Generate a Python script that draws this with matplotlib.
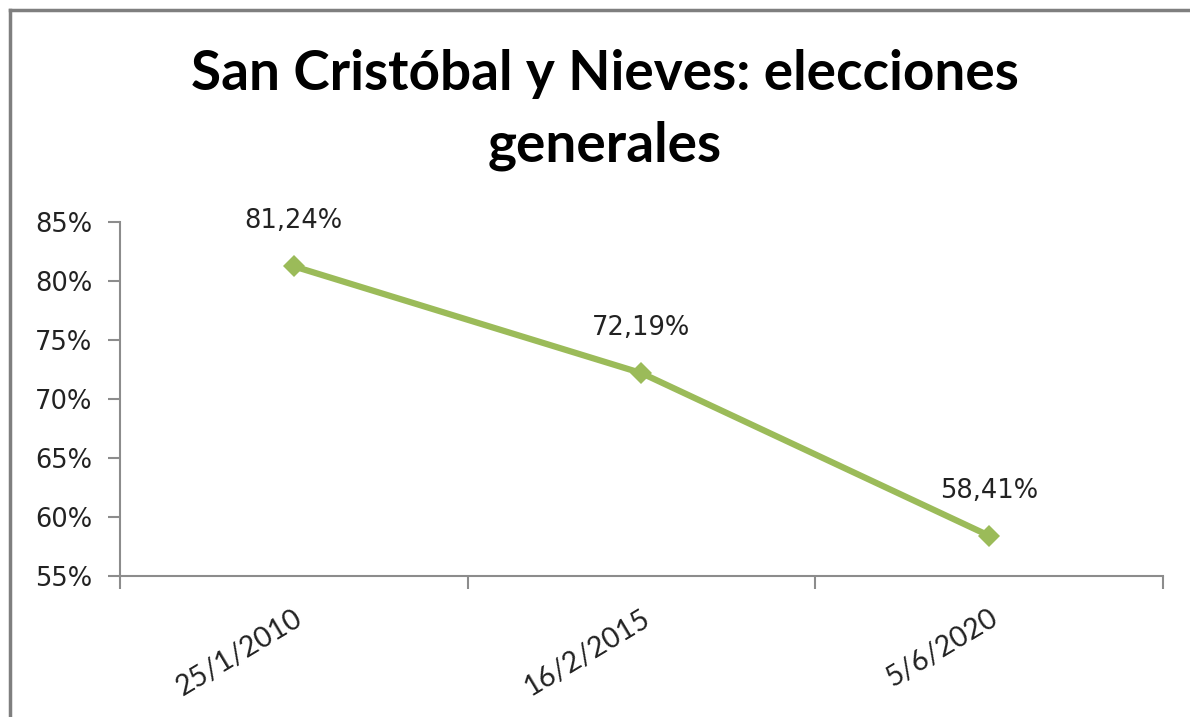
import matplotlib
matplotlib.use("Agg")
import matplotlib.pyplot as plt
from matplotlib.lines import Line2D

# Data
dates = ["25/1/2010", "16/2/2015", "5/6/2020"]
turnout = [81.24, 72.19, 58.41]
labels = ["81,24%", "72,19%", "58,41%"]
yticks = [55, 60, 65, 70, 75, 80, 85]

fig = plt.figure(figsize=(11.9, 7.17), dpi=100)
ax = fig.add_axes([0.1008, 0.1967, 0.8765, 0.4937])

x = list(range(len(dates)))
ax.plot(x, turnout, color="#9BBB59", linewidth=4.5, marker="D", markersize=11,
        markeredgewidth=0, solid_capstyle="round", zorder=3)

for xi, yi, lab in zip(x, turnout, labels):
    ax.annotate(lab, (xi, yi), xytext=(0, 23), textcoords="offset points",
                ha="center", va="bottom", fontsize=18.5, color="#222222",
                family="DejaVu Sans")

ax.set_xlim(-0.5, 2.5)
ax.set_ylim(55, 85)
ax.set_yticks(yticks)
ax.set_yticklabels([f"{t}%" for t in yticks], fontsize=18.5, color="#222222",
                   family="DejaVu Sans")

# category ticks at boundaries, labels at centers
ax.set_xticks([-0.5, 0.5, 1.5, 2.5])
ax.set_xticklabels([])
ax.set_xticks(x, minor=True)
ax.set_xticklabels(dates, minor=True, rotation=31, ha="right",
                   rotation_mode="anchor", fontsize=20.5, family="Lato",
                   color="#222222")
ax.tick_params(axis="x", which="minor", length=0, pad=21)
ax.tick_params(axis="x", which="major", length=9, color="#8c8c8c", width=1.5)
ax.tick_params(axis="y", length=9, color="#8c8c8c", width=1.5, pad=11)

for side in ["top", "right"]:
    ax.spines[side].set_visible(False)
for side in ["left", "bottom"]:
    ax.spines[side].set_color("#8c8c8c")
    ax.spines[side].set_linewidth(1.5)

fig.text(0.508, 0.847, "San Cristóbal y Nieves: elecciones\ngenerales",
         ha="center", va="center", fontsize=39.5, fontweight="bold",
         family="Lato", linespacing=1.52, color="#000000")

# chart frame (top and left edges)
fig.add_artist(Line2D([10 / 1190, 1], [1 - 10 / 717, 1 - 10 / 717],
                      color="#7f7f7f", linewidth=2.5))
fig.add_artist(Line2D([10 / 1190, 10 / 1190], [0, 1 - 10 / 717],
                      color="#7f7f7f", linewidth=2.5))

fig.savefig("out.png", dpi=100)
